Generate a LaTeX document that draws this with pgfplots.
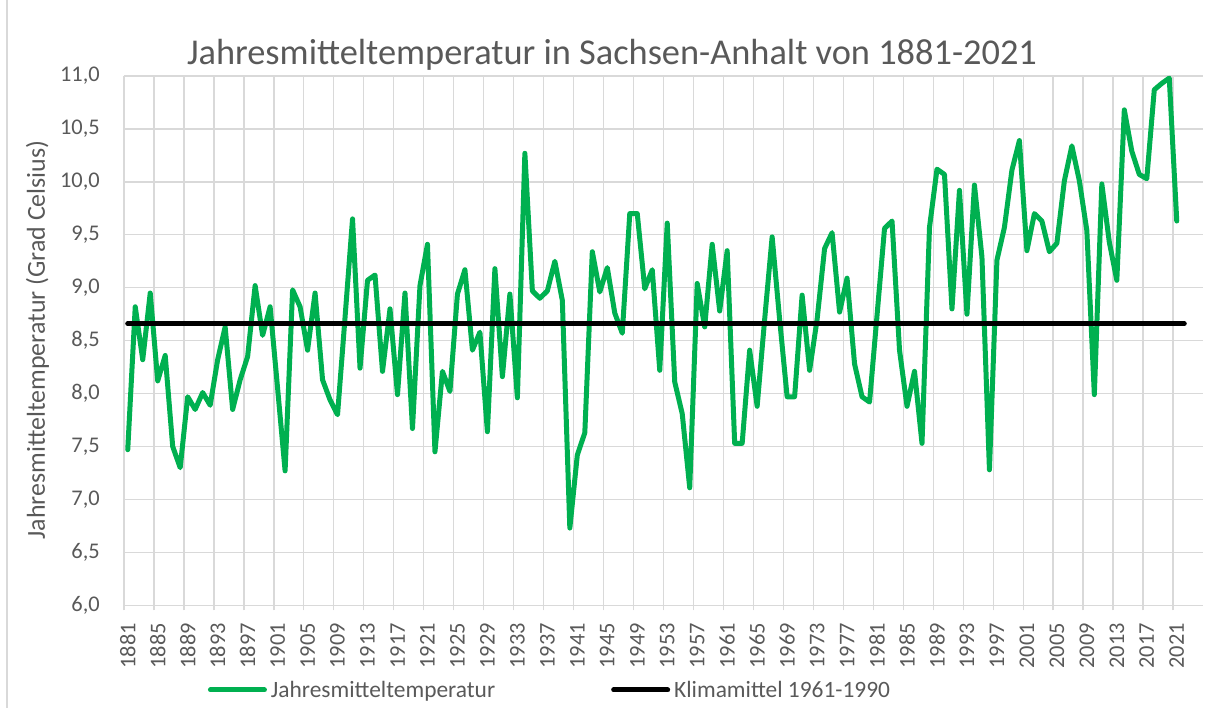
\documentclass[border=0pt]{standalone}
\usepackage{pgfplots}
\pgfplotsset{compat=1.18}
\usepackage{fontspec}
\setmainfont{Carlito}
\definecolor{exgreen}{HTML}{00B050}
\definecolor{txtgray}{HTML}{595959}
\definecolor{grdgray}{HTML}{D9D9D9}
\begin{document}
\begin{tikzpicture}
\path[use as bounding box] (-124bp,-102.7bp) rectangle (1086bp,605.3bp);
\draw[grdgray, line width=1.3bp] (-117bp,-102.7bp) -- (-117bp,605.3bp);
\begin{axis}[
  at={(0,0)}, anchor=south west,
  scale only axis, width=1079bp, height=529.3bp,
  xmin=1880.5, xmax=2024.5, ymin=6, ymax=11,
  ytick={6,6.5,7,7.5,8,8.5,9,9.5,10,10.5,11},
  yticklabels={{6,0},{6,5},{7,0},{7,5},{8,0},{8,5},{9,0},{9,5},{10,0},{10,5},{11,0}},
  xtick={1881,1885,1889,1893,1897,1901,1905,1909,1913,1917,1921,1925,1929,1933,1937,1941,1945,1949,1953,1957,1961,1965,1969,1973,1977,1981,1985,1989,1993,1997,2001,2005,2009,2013,2017,2021},
  xticklabels={1881,1885,1889,1893,1897,1901,1905,1909,1913,1917,1921,1925,1929,1933,1937,1941,1945,1949,1953,1957,1961,1965,1969,1973,1977,1981,1985,1989,1993,1997,2001,2005,2009,2013,2017,2021},
  minor xtick={1880.5,1884.5,1888.5,1892.5,1896.5,1900.5,1904.5,1908.5,1912.5,1916.5,1920.5,1924.5,1928.5,1932.5,1936.5,1940.5,1944.5,1948.5,1952.5,1956.5,1960.5,1964.5,1968.5,1972.5,1976.5,1980.5,1984.5,1988.5,1992.5,1996.5,2000.5,2004.5,2008.5,2012.5,2016.5,2020.5},
  xminorgrids=true, ymajorgrids=true,
  grid style={grdgray, line width=1.3bp},
  minor grid style={grdgray, line width=1.3bp},
  major tick length=0pt, minor tick length=5bp,
  tick align=outside, tick pos=left,
  minor tick style={grdgray, line width=1.3bp},
  axis line style={draw=none},
  ticklabel style={font=\fontsize{22.5}{27}\selectfont, text=txtgray},
  yticklabel style={anchor=east, inner sep=0pt},
  yticklabel shift=24bp,
  xticklabel style={rotate=90, anchor=east, inner sep=0pt},
  xticklabel shift=17.5bp,
  legend columns=2,
  legend style={at={(axis description cs:0.0778,-0.160)}, anchor=west,
    draw=none, fill=none, inner sep=0pt, outer sep=0pt,
    font=\fontsize{23.5}{28}\selectfont, text=txtgray,
    nodes={inner sep=0pt},
    /tikz/every odd column/.append style={column sep=4bp},
    /tikz/every even column/.append style={column sep=116bp}},
  legend image code/.code={\draw[#1] (0bp,0bp) -- (54bp,0bp);},
]
\addplot[exgreen, line width=5bp, line join=round, line cap=round] coordinates {
(1881,7.47)(1882,8.82)(1883,8.32)(1884,8.95)(1885,8.12)(1886,8.36)(1887,7.50)(1888,7.30)(1889,7.97)(1890,7.85)
(1891,8.01)(1892,7.89)(1893,8.32)(1894,8.63)(1895,7.85)(1896,8.13)(1897,8.35)(1898,9.02)(1899,8.55)(1900,8.82)
(1901,8.05)(1902,7.27)(1903,8.98)(1904,8.82)(1905,8.41)(1906,8.95)(1907,8.13)(1908,7.94)(1909,7.80)(1910,8.72)
(1911,9.65)(1912,8.24)(1913,9.07)(1914,9.12)(1915,8.21)(1916,8.80)(1917,7.99)(1918,8.95)(1919,7.67)(1920,9.02)
(1921,9.41)(1922,7.45)(1923,8.21)(1924,8.02)(1925,8.94)(1926,9.17)(1927,8.41)(1928,8.58)(1929,7.64)(1930,9.18)
(1931,8.16)(1932,8.94)(1933,7.96)(1934,10.27)(1935,8.97)(1936,8.90)(1937,8.97)(1938,9.25)(1939,8.88)(1940,6.73)
(1941,7.42)(1942,7.63)(1943,9.34)(1944,8.96)(1945,9.19)(1946,8.76)(1947,8.57)(1948,9.70)(1949,9.70)(1950,8.99)
(1951,9.17)(1952,8.22)(1953,9.61)(1954,8.11)(1955,7.81)(1956,7.11)(1957,9.04)(1958,8.63)(1959,9.41)(1960,8.78)
(1961,9.35)(1962,7.53)(1963,7.53)(1964,8.41)(1965,7.88)(1966,8.70)(1967,9.48)(1968,8.70)(1969,7.97)(1970,7.97)
(1971,8.93)(1972,8.22)(1973,8.70)(1974,9.37)(1975,9.52)(1976,8.77)(1977,9.09)(1978,8.28)(1979,7.97)(1980,7.92)
(1981,8.74)(1982,9.56)(1983,9.63)(1984,8.41)(1985,7.88)(1986,8.21)(1987,7.53)(1988,9.57)(1989,10.12)(1990,10.07)
(1991,8.80)(1992,9.92)(1993,8.75)(1994,9.97)(1995,9.29)(1996,7.28)(1997,9.26)(1998,9.57)(1999,10.11)(2000,10.39)
(2001,9.35)(2002,9.70)(2003,9.63)(2004,9.34)(2005,9.42)(2006,10.01)(2007,10.34)(2008,10.01)(2009,9.54)(2010,7.99)
(2011,9.98)(2012,9.43)(2013,9.07)(2014,10.68)(2015,10.29)(2016,10.07)(2017,10.03)(2018,10.87)(2019,10.93)(2020,10.98)
(2021,9.63)
};
\addlegendentry{Jahresmitteltemperatur}
\addplot[black, line width=5bp, line cap=round] coordinates {(1881,8.66)(2022,8.66)};
\addlegendentry{Klimamittel 1961-1990}
\end{axis}
\node[anchor=base, font=\fontsize{36.5}{44}\selectfont, text=txtgray] at (488bp,540.3bp) {Jahresmitteltemperatur in Sachsen-Anhalt von 1881-2021};
\node[rotate=90, anchor=base, font=\fontsize{26}{31}\selectfont, text=txtgray] at (-79bp,265.3bp) {Jahresmitteltemperatur (Grad Celsius)};
\end{tikzpicture}
\end{document}
